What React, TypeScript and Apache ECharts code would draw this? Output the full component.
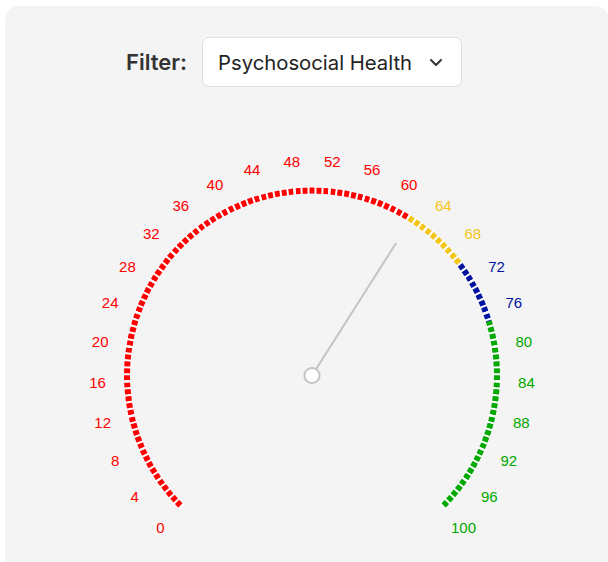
import React, { useEffect, useRef } from "react";
import * as echarts from "echarts";

const filterLabel = "Filter:";
const filterValue = "Psychosocial Health";
const gaugeMin = 0;
const gaugeMax = 100;
const gaugeSplits = 25;
const scoreValue = [62];
const bandStops = [0.615, 0.695, 0.77, 1];
const bandColors = ["#ff0000", "#f5c518", "#0012a0", "#00a800"];

export default function App() {
  const ref = useRef<HTMLDivElement>(null);

  useEffect(() => {
    if (!ref.current) return;
    const chart = echarts.init(ref.current, undefined, { renderer: "svg" });
    chart.setOption({
      animation: false,
      backgroundColor: "transparent",
      series: [
        {
          type: "gauge",
          center: [312, 375.5],
          radius: 188,
          startAngle: 225,
          endAngle: -45,
          min: gaugeMin,
          max: gaugeMax,
          splitNumber: gaugeSplits,
          axisLine: {
            lineStyle: {
              width: 6,
              color: bandStops.map((s, i) => [s, bandColors[i]]),
            },
          },
          axisTick: {
            show: true,
            splitNumber: 5,
            length: 8,
            distance: -7,
            lineStyle: { color: "#ffffff", width: 2 },
          },
          splitLine: {
            show: true,
            length: 8,
            distance: -7,
            lineStyle: { color: "#ffffff", width: 2 },
          },
          axisLabel: {
            show: true,
            distance: -28,
            color: "auto",
            fontSize: 15,
            fontFamily: "Liberation Sans, Arial, sans-serif",
            width: 1,
            lineHeight: 1,
            formatter: (v: number) => `{a|${v}}`,
            rich: {
              a: {
                align: "center",
                verticalAlign: "middle",
                lineHeight: 1,
                fontSize: 15,
                fontFamily: "Liberation Sans, Arial, sans-serif",
              },
            },
          },
          pointer: {
            show: true,
            icon: "rect",
            width: 2,
            length: 157,
            itemStyle: { color: "#c4c4c4" },
          },
          anchor: {
            show: true,
            showAbove: true,
            size: 15,
            icon: "circle",
            itemStyle: { color: "#ffffff", borderColor: "#c4c4c4", borderWidth: 2 },
          },
          progress: { show: false },
          title: { show: false },
          detail: { show: false },
          data: scoreValue.map((v) => ({ value: v })),
        },
      ],
    });
    return () => chart.dispose();
  }, []);

  return (
    <div
      style={{
        position: "fixed",
        left: 0,
        top: 0,
        width: 608,
        height: 562,
        background: "#ffffff",
        overflow: "hidden",
        fontFamily: "Inter, 'Noto Sans', sans-serif",
      }}
    >
      <div
        style={{
          position: "absolute",
          left: 5,
          top: 6,
          width: 604,
          height: 600,
          background: "#f4f4f4",
          borderRadius: 14,
        }}
      />
      <div
        style={{
          position: "absolute",
          left: 126,
          top: 48,
          fontSize: 22,
          fontWeight: 600,
          color: "#333333",
          lineHeight: "28px",
        }}
      >
        {filterLabel}
      </div>
      <div
        style={{
          position: "absolute",
          left: 202,
          top: 37,
          width: 258,
          height: 48,
          background: "#ffffff",
          border: "1px solid #dedede",
          borderRadius: 7,
        }}
      >
        <div
          style={{
            position: "absolute",
            left: 15,
            top: 11,
            fontSize: 20.3,
            color: "#222222",
            lineHeight: "27px",
            whiteSpace: "nowrap",
          }}
        >
          {filterValue}
        </div>
        <svg
          width="14"
          height="10"
          viewBox="0 0 14 10"
          style={{ position: "absolute", left: 226, top: 20 }}
        >
          <polyline
            points="2,2 7,7 12,2"
            fill="none"
            stroke="#333333"
            strokeWidth="2"
            strokeLinecap="round"
            strokeLinejoin="round"
          />
        </svg>
      </div>
      <div
        ref={ref}
        style={{ position: "absolute", left: 0, top: 0, width: 608, height: 562 }}
      />
    </div>
  );
}
